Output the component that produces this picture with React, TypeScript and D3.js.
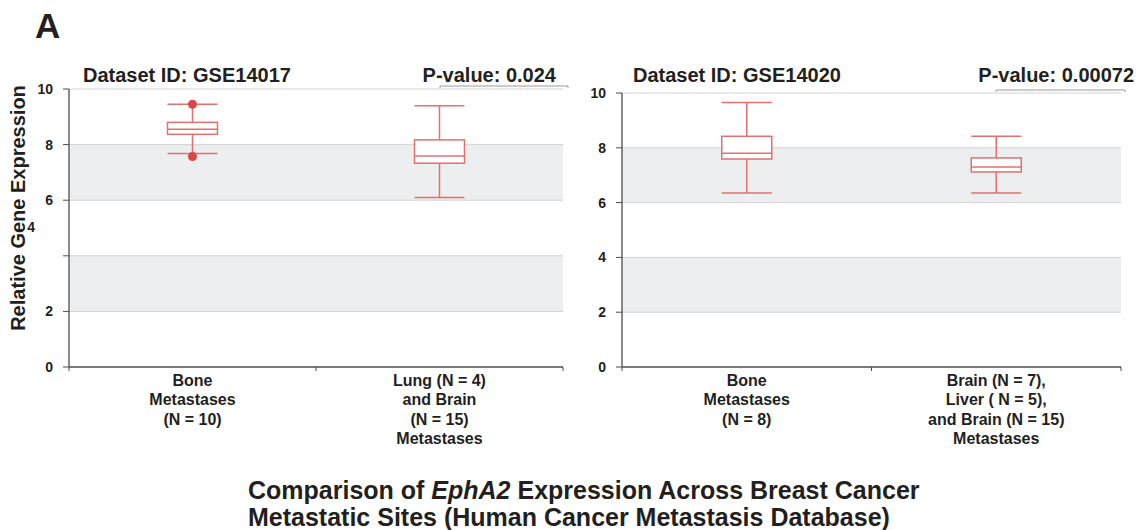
import React from "react";
import * as d3 from "d3";

// --- data ---
const datasetIds = ["GSE14017", "GSE14020"];
const pValues = ["0.024", "0.00072"];

const categoriesA = ["Bone Metastases (N = 10)", "Lung (N = 4) and Brain (N = 15) Metastases"];
const categoriesB = ["Bone Metastases (N = 8)", "Brain (N = 7), Liver ( N = 5), and Brain (N = 15) Metastases"];

// tick label lines, as printed under each category
const labelLinesA = [
  ["Bone", "Metastases", "(N = 10)"],
  ["Lung (N = 4)", "and Brain", "(N = 15)", "Metastases"],
];
const labelLinesB = [
  ["Bone", "Metastases", "(N = 8)"],
  ["Brain (N = 7),", "Liver ( N = 5),", "and Brain (N = 15)", "Metastases"],
];

// [lower whisker, q1, median, q3, upper whisker]
const boxStatsA = [
  [7.68, 8.37, 8.55, 8.8, 9.45],
  [6.1, 7.33, 7.59, 8.17, 9.4],
];
const boxStatsB = [
  [6.35, 7.59, 7.8, 8.42, 9.65],
  [6.35, 7.12, 7.3, 7.63, 8.42],
];
const outliersA = [[9.45, 7.57], []];
const outliersB = [[], []];

const yTicks = [0, 2, 4, 6, 8, 10];
const bands = [[6, 8], [2, 4]];

const font = "'Liberation Sans', Arial, Helvetica, sans-serif";
const boxColor = "#e3706f";
const dotColor = "#d9474a";
const textColor = "#231f20";

type PanelProps = {
  id: string;
  pValue: string;
  categories: string[];
  labelLines: string[][];
  stats: number[][];
  outliers: number[][];
  x0: number;
  x1: number;
  yTop: number;
  yBottom: number;
  titleX: number;
  pRight: number;
  pLine: [number, number, number];
  misplacedFour?: boolean;
};

function Panel({ id, pValue, categories, labelLines, stats, outliers, x0, x1, yTop, yBottom, titleX, pRight, pLine, misplacedFour }: PanelProps) {
  const x = d3.scaleBand().domain(categories).range([x0, x1]).padding(0);
  const y = d3.scaleLinear().domain([0, 10]).range([yBottom, yTop]);
  const boxW = 50;

  return (
    <g>
      {/* shaded bands */}
      {bands.map(([a, b], i) => (
        <rect key={"b" + i} x={x0} y={y(b)} width={x1 - x0} height={y(a) - y(b)} fill="#edeef0" />
      ))}
      {/* grid lines */}
      {yTicks.filter(t => t > 0).map(t => (
        <line key={"g" + t} x1={x0} x2={x1} y1={y(t)} y2={y(t)} stroke="#d2d3d5" strokeWidth={1} />
      ))}
      {/* y axis */}
      <line x1={x0} x2={x0} y1={y(10)} y2={y(0)} stroke="#4d4d4f" strokeWidth={1.3} />
      {yTicks.map(t => (
        <line key={"t" + t} x1={x0 - 6} x2={x0} y1={y(t)} y2={y(t)} stroke="#4d4d4f" strokeWidth={1} />
      ))}
      {yTicks.map(t => {
        if (t === 4 && misplacedFour) {
          return (
            <text key={"l" + t} x={x0 - 34} y={y(5.05)} dy="0.35em" textAnchor="end" fontSize={14} fontWeight="bold" fill={textColor} fontFamily={font}>4</text>
          );
        }
        return (
          <text key={"l" + t} x={x0 - 16} y={y(t)} dy="0.35em" textAnchor="end" fontSize={14} fontWeight="bold" fill={textColor} fontFamily={font}>{t}</text>
        );
      })}
      {/* x axis */}
      <line x1={x0} x2={x1} y1={y(0)} y2={y(0)} stroke="#4d4d4f" strokeWidth={1.3} />
      {[x0, x0 + x.step(), x1].map((px, i) => (
        <line key={"xt" + i} x1={px} x2={px} y1={y(0)} y2={y(0) + 4} stroke="#4d4d4f" strokeWidth={1} />
      ))}
      {categories.map((c, i) => {
        const cx = (x(c) as number) + x.bandwidth() / 2;
        return (
          <text key={"xl" + i} x={cx} y={y(0) + 19} textAnchor="middle" fontSize={16} fontWeight="bold" fill={textColor} fontFamily={font}>
            {labelLines[i].map((ln, j) => (
              <tspan key={j} x={cx} dy={j === 0 ? 0 : 19.3}>{ln}</tspan>
            ))}
          </text>
        );
      })}
      {/* boxes */}
      {categories.map((c, i) => {
        const cx = (x(c) as number) + x.bandwidth() / 2;
        const [lo, q1, med, q3, hi] = stats[i];
        return (
          <g key={"box" + i} stroke={boxColor} strokeWidth={1.5} fill="none">
            <line x1={cx} x2={cx} y1={y(hi)} y2={y(q3)} />
            <line x1={cx} x2={cx} y1={y(q1)} y2={y(lo)} />
            <line x1={cx - boxW / 2} x2={cx + boxW / 2} y1={y(hi)} y2={y(hi)} />
            <line x1={cx - boxW / 2} x2={cx + boxW / 2} y1={y(lo)} y2={y(lo)} />
            <rect x={cx - boxW / 2} y={y(q3)} width={boxW} height={y(q1) - y(q3)} fill="#fff" />
            <line x1={cx - boxW / 2} x2={cx + boxW / 2} y1={y(med)} y2={y(med)} />
            {outliers[i].map((o, k) => (
              <circle key={k} cx={cx} cy={y(o)} r={4.5} fill={dotColor} stroke="none" />
            ))}
          </g>
        );
      })}
      {/* headings */}
      <text x={titleX} y={82} fontSize={20} fontWeight="bold" fill={textColor} fontFamily={font}>Dataset ID: {id}</text>
      <text x={pRight} y={82} textAnchor="end" fontSize={20} fontWeight="bold" fill={textColor} fontFamily={font}>P-value: {pValue}</text>
      <path d={`M${pLine[0]},${pLine[2] + 2}V${pLine[2]}H${pLine[1]}V${pLine[2] + 2}`} stroke="#9a9a9c" strokeWidth={1} fill="none" />
    </g>
  );
}

export default function App() {
  return (
    <svg width={1140} height={530} style={{ display: "block", position: "absolute", left: 0, top: 0, background: "#fff" }}>
      <rect width={1140} height={530} fill="#fff" />
      <text x={35} y={38} fontSize={35} fontWeight="bold" fill={textColor} fontFamily={font}>A</text>
      <text transform="translate(25,208) rotate(-90)" textAnchor="middle" fontSize={20} fontWeight="bold" fill={textColor} fontFamily={font}>Relative Gene Expression</text>
      <Panel id={datasetIds[0]} pValue={pValues[0]} categories={categoriesA} labelLines={labelLinesA}
        stats={boxStatsA} outliers={outliersA} x0={69} x1={563} yTop={89} yBottom={367}
        titleX={83} pRight={556} pLine={[440, 568, 86]} misplacedFour />
      <Panel id={datasetIds[1]} pValue={pValues[1]} categories={categoriesB} labelLines={labelLinesB}
        stats={boxStatsB} outliers={outliersB} x0={622} x1={1121} yTop={93} yBottom={367}
        titleX={633} pRight={1134} pLine={[996, 1125, 90]} />
      <text x={248} y={499} fontSize={25} fontWeight="bold" fill={textColor} fontFamily={font}>
        Comparison of <tspan fontStyle="italic">EphA2</tspan> Expression Across Breast Cancer
      </text>
      <text x={248} y={526} fontSize={25} fontWeight="bold" fill={textColor} fontFamily={font}>
        Metastatic Sites (Human Cancer Metastasis Database)
      </text>
    </svg>
  );
}
